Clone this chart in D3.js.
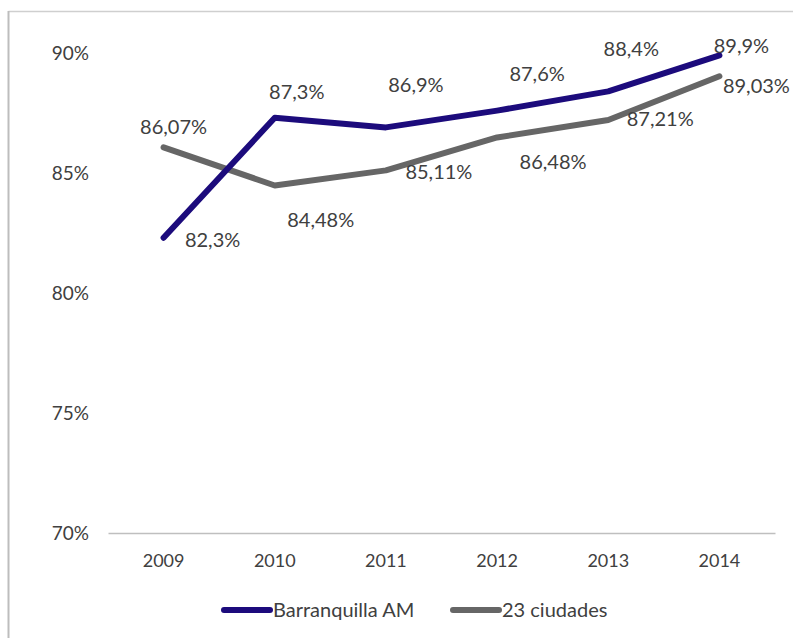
<!DOCTYPE html>
<html>
<head>
<meta charset="utf-8">
<script src="https://cdn.jsdelivr.net/npm/d3@7"></script>
<style>
  html, body { margin: 0; padding: 0; background: #fff; }
  svg { display: block; }
  text { font-family: Lato, "Open Sans", sans-serif; fill: #404040; }
</style>
</head>
<body>
<svg id="chart" width="793" height="638"></svg>
<script>
const years = ["2009", "2010", "2011", "2012", "2013", "2014"];
const barranquilla = [82.3, 87.3, 86.9, 87.6, 88.4, 89.9];
const ciudades = [86.07, 84.48, 85.11, 86.48, 87.21, 89.03];
const barranquillaLabels = ["82,3%", "87,3%", "86,9%", "87,6%", "88,4%", "89,9%"];
const ciudadesLabels = ["86,07%", "84,48%", "85,11%", "86,48%", "87,21%", "89,03%"];
const yTicks = [70, 75, 80, 85, 90];
const seriesNames = ["Barranquilla AM", "23 ciudades"];
const seriesColors = ["#1c0b7c", "#666666"];

// label placement offsets (dx to text center, dy to text center) relative to points
const barranquillaOffsets = [[49, 2], [22, -26], [30, -42], [40, -37], [23, -42], [22, -9]];
const ciudadesOffsets = [[10, -20], [46, 35], [53, 2], [56, 25], [52, -1], [37, 10]];

const svg = d3.select("#chart");

// frame
svg.append("line").attr("x1", 8.5).attr("x2", 793).attr("y1", 11.5).attr("y2", 11.5)
  .attr("stroke", "#cfcfcf").attr("stroke-width", 1.5);
svg.append("line").attr("x1", 8.5).attr("x2", 8.5).attr("y1", 11).attr("y2", 638)
  .attr("stroke", "#bdbdbd").attr("stroke-width", 2);

const x = d3.scaleBand().domain(years).range([108, 775]).padding(0);
const y = d3.scaleLinear().domain([70, 90]).range([533, 53]);
const cx = d => x(d) + x.bandwidth() / 2;

// y axis labels
svg.append("g").selectAll("text").data(yTicks).join("text")
  .attr("x", 89).attr("y", d => y(d)).attr("dy", "0.35em")
  .attr("text-anchor", "end").attr("font-size", 19)
  .text(d => d + "%");

// x axis
const xAxis = d3.axisBottom(x).tickSize(0).tickPadding(0);
const gx = svg.append("g").attr("transform", `translate(0,${y(70)})`).call(xAxis);
gx.select(".domain").attr("stroke", "#bfbfbf").attr("stroke-width", 1.5);
gx.selectAll(".tick text").attr("font-size", 18).attr("fill", "#404040")
  .attr("font-family", "Lato, 'Open Sans', sans-serif")
  .attr("y", 34).attr("dy", "0");

const line = d3.line().x(d => cx(d.year)).y(d => y(d.v));

const series = [
  { vals: barranquilla, labels: barranquillaLabels, offs: barranquillaOffsets, color: seriesColors[0] },
  { vals: ciudades, labels: ciudadesLabels, offs: ciudadesOffsets, color: seriesColors[1] }
];

[series[1], series[0]].forEach(s => {
  const pts = years.map((yr, i) => ({ year: yr, v: s.vals[i] }));
  svg.append("path").datum(pts)
    .attr("d", line).attr("fill", "none")
    .attr("stroke", s.color).attr("stroke-width", 6)
    .attr("stroke-linejoin", "round").attr("stroke-linecap", "round");
});

series.forEach(s => {
  svg.append("g").selectAll("text").data(years).join("text")
    .attr("x", (d, i) => cx(d) + s.offs[i][0])
    .attr("y", (d, i) => y(s.vals[i]) + s.offs[i][1])
    .attr("dy", "0.35em").attr("text-anchor", "middle").attr("font-size", 20)
    .text((d, i) => s.labels[i]);
});

// legend
const legend = [
  { name: seriesNames[0], color: seriesColors[0], x: 224 },
  { name: seriesNames[1], color: seriesColors[1], x: 453 }
];
const lg = svg.append("g");
legend.forEach(l => {
  lg.append("line").attr("x1", l.x).attr("x2", l.x + 46).attr("y1", 610).attr("y2", 610)
    .attr("stroke", l.color).attr("stroke-width", 6).attr("stroke-linecap", "round");
  lg.append("text").attr("x", l.x + 49).attr("y", 610).attr("dy", "0.35em")
    .attr("font-size", 20).text(l.name);
});
</script>
</body>
</html>
